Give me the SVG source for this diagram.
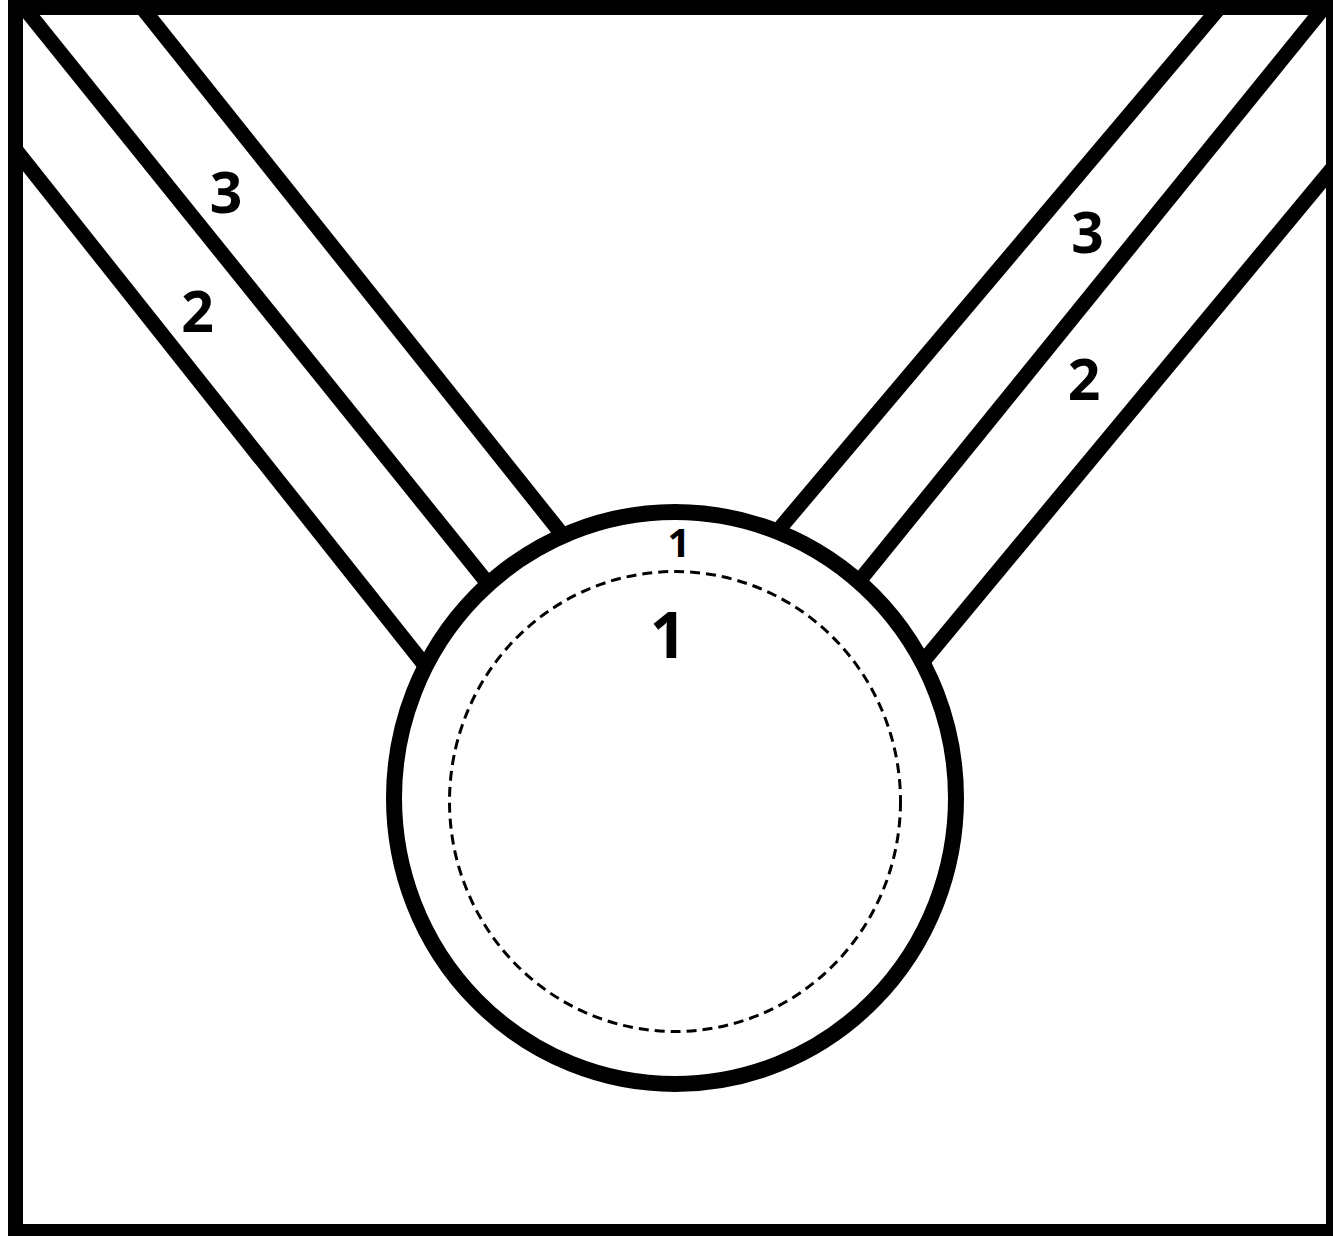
<svg xmlns="http://www.w3.org/2000/svg" width="1333" height="1236" viewBox="0 0 1333 1236">
  <style>
    .band { stroke: #000; stroke-width: 15; fill: none; stroke-linecap: butt; }
    .lbl { font-family: "Open Sans", "DejaVu Sans", sans-serif; font-weight: bold; fill: #000; text-anchor: middle; }
  </style>
  <rect x="0" y="0" width="1333" height="1236" fill="#fff"/>
  <g id="connectors">
    <line class="band" x1="136" y1="0" x2="569" y2="543"/>
    <line class="band" x1="18" y1="0" x2="494" y2="591"/>
    <line class="band" x1="15" y1="149" x2="431" y2="673"/>
    <line class="band" x1="1226" y1="0" x2="770" y2="540"/>
    <line class="band" x1="1330" y1="0" x2="852" y2="590"/>
    <line class="band" x1="1333" y1="167.5" x2="916" y2="670"/>
  </g>
  <g id="frame">
    <rect x="15.5" y="7.5" width="1318" height="1224" fill="none" stroke="#000" stroke-width="15"/>
  </g>
  <g id="circle">
    <ellipse cx="675" cy="798" rx="281" ry="286" fill="#fff" stroke="#000" stroke-width="16"/>
    <ellipse cx="675" cy="801.5" rx="225.5" ry="230" fill="none" stroke="#000" stroke-width="3" stroke-dasharray="10 6"/>
  </g>
  <g id="labels">
    <text class="lbl" x="226" y="213" font-size="57">3</text>
    <text class="lbl" x="197.5" y="332" font-size="57">2</text>
    <text class="lbl" x="1087.5" y="253" font-size="57">3</text>
    <text class="lbl" x="1084" y="400" font-size="57">2</text>
    <text class="lbl" x="679" y="557" font-size="40">1</text>
    <text class="lbl" x="668" y="658" font-size="64">1</text>
  </g>
</svg>
